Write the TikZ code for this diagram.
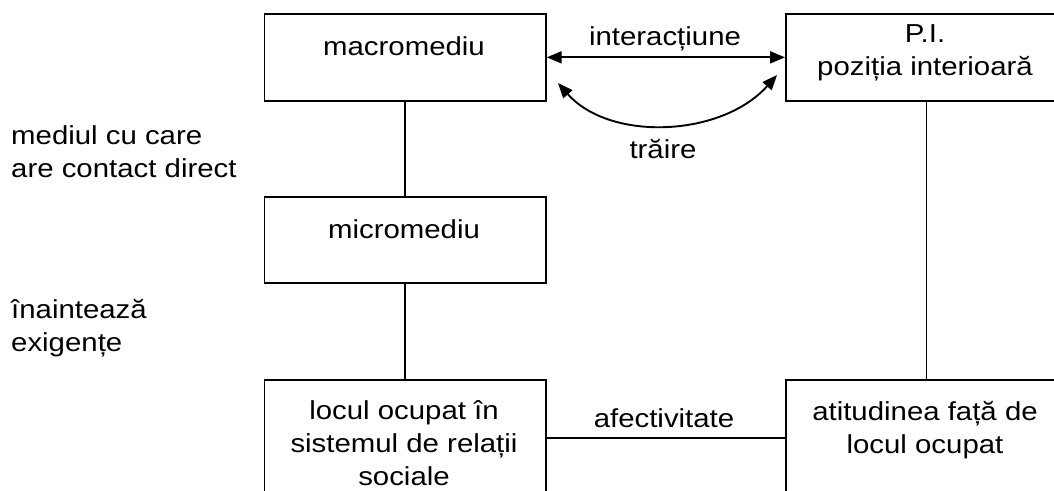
\documentclass[tikz,border=0pt]{standalone}
\usepackage{fontspec}
\setmainfont[FakeStretch=1.13]{Liberation Sans}
\usetikzlibrary{arrows.meta}
\begin{document}
\begin{tikzpicture}[x=1pt,y=-1pt,
  box/.style={draw, line width=1.7pt, rectangle, inner sep=0pt, anchor=north west, minimum width=281.5pt},
  lbl/.style={font=\fontsize{26}{33}\selectfont, inner sep=0pt, anchor=base, align=center},
  conn/.style={line width=1.7pt},
  dbl/.style={line width=1.9pt, {Triangle[length=15pt,width=12pt]}-{Triangle[length=15pt,width=12pt]}}]
\useasboundingbox (0,0) rectangle (1054,490);
\clip (0,0) rectangle (1054,490);
% boxes
\node[box, minimum height=87pt] (macro) at (263.5,13) {};
\node[box, minimum height=87pt] (pi) at (785,13) {};
\node[box, minimum height=86pt] (micro) at (263.5,196) {};
\node[box, minimum height=116pt] (locul) at (263.5,379) {};
\node[box, minimum height=116pt] (atit) at (785,379) {};
% texts in boxes (base anchor = baseline of last line)
\node[lbl] (tmacro) at (404,55) {macromediu};
\node[lbl] (tpi) at (925,75) {P.I.\\poziția interioară};
\node[lbl] (tmicro) at (404,238) {micromediu};
\node[lbl] (tlocul) at (404,485) {locul ocupat în\\sistemul de relații\\sociale};
\node[lbl] (tatit) at (925,453) {atitudinea față de\\locul ocupat};
% connector labels
\node[lbl] (tinter) at (665,45) {interacțiune};
\node[lbl] (ttrai) at (663,158) {trăire};
\node[lbl] (tafect) at (664,427) {afectivitate};
% side texts
\node[lbl, align=left, anchor=base west] (tmediu) at (11,177) {mediul cu care\\are contact direct};
\node[lbl, align=left, anchor=base west] (tinaint) at (11,351) {înaintează\\exigențe};
% connectors
\draw[conn] (macro.south) -- (micro.north);
\draw[conn] (micro.south) -- (locul.north);
\draw[conn] (pi.south) -- (atit.north);
\draw[conn] (locul.east) -- (atit.west);
\draw[dbl] (macro.east) -- (pi.west);
\coordinate (ca) at (558,83);
\coordinate (cb) at (777,75);
\draw[dbl] (ca) .. controls (610,142) and (722,137) .. (cb);
\end{tikzpicture}
\end{document}
